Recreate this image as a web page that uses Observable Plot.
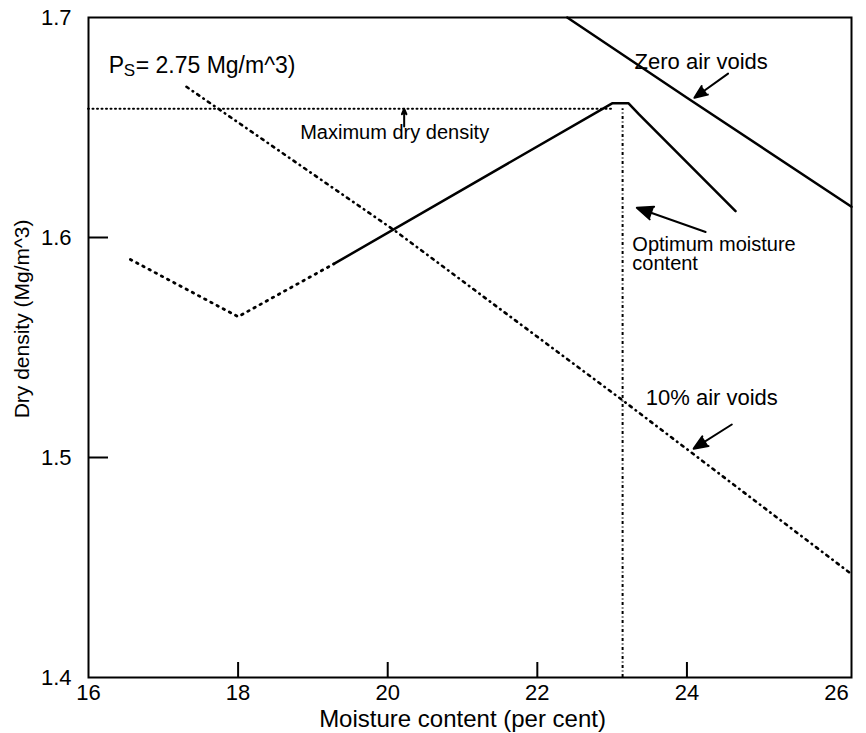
<!DOCTYPE html>
<html>
<head>
<meta charset="utf-8">
<script src="https://cdn.jsdelivr.net/npm/d3@7"></script>
<script src="https://cdn.jsdelivr.net/npm/@observablehq/plot@0.6"></script>
<style>
  html, body { margin: 0; padding: 0; background: #fff; }
  #chart svg { font-family: "Liberation Sans", Arial, Helvetica, sans-serif; }
</style>
</head>
<body>
<div id="chart"></div>
<script>
// ---- axes ----
const xDomain = [16, 26.2];
const yDomain = [1.4, 1.7];
const xTicks = [16, 18, 20, 22, 24, 26];
const yTicks = [1.4, 1.5, 1.6, 1.7];
const innerXTicks = [18, 20, 22, 24];
const innerYTicks = [1.5, 1.6];
const xTitle = "Moisture content (per cent)";
const yTitle = "Dry density (Mg/m^3)";

// ---- series ----
const zeroAirMoisture = [22.40, 24.0, 26.2];
const zeroAirDensity  = [1.700, 1.6635, 1.614];

const dryMoisture = [16.56, 18.0, 19.28];
const dryDensity  = [1.590, 1.564, 1.588];

const compMoisture = [19.28, 23.0, 23.22, 23.36, 24.65];
const compDensity  = [1.588, 1.661, 1.661, 1.656, 1.612];

const air10Moisture = [17.31, 20.1, 23.14, 26.2];
const air10Density  = [1.6685, 1.603, 1.526, 1.447];

const maxDryDensity = 1.6585;
const optimumMoisture = 23.14;

// ---- annotations ----
const noteText = ["Zero air voids", "Maximum dry density", "Optimum moisture", "content", "10% air voids"];
const noteX    = [23.30, 18.83, 23.27, 23.27, 23.45];
const noteY    = [1.680, 1.6475, 1.597, 1.588, 1.527];
const noteSize = [22, 20, 20, 20, 22];

const arrowX1 = [24.55, 20.22, 24.25, 24.60];
const arrowY1 = [1.6745, 1.6505, 1.6025, 1.5150];
const arrowX2 = [24.10, 20.22, 23.33, 24.09];
const arrowY2 = [1.6635, 1.6585, 1.6135, 1.5040];

const psParts = ["P", "S", "= 2.75 Mg/m^3)"];
const psX = 16.27;
const psY = 1.678;

const pts = (xs, ys) => xs.map((x, i) => ({x, y: ys[i]}));
const idx = n => d3.range(n);

const plotW = 866, plotH = 733;
const mL = 88, mR = 15, mT = 17, mB = 56;

const chart = Plot.plot({
  width: plotW,
  height: plotH,
  marginLeft: mL,
  marginRight: mR,
  marginTop: mT,
  marginBottom: mB,
  x: {domain: xDomain},
  y: {domain: yDomain},
  style: {fontFamily: '"Liberation Sans", Arial, sans-serif', color: "black", background: "white"},
  marks: [
    Plot.axisX({ticks: xTicks, tickSize: 0, tickPadding: 7, fontSize: 22, tickFormat: d => String(d), label: null}),
    Plot.axisY({ticks: yTicks, tickSize: 0, tickPadding: 17, fontSize: 22, tickFormat: d3.format(".1f"), label: null}),
    Plot.ruleY(innerYTicks, {stroke: "black", strokeWidth: 2, insetRight: plotW - mL - mR - 20}),
    Plot.ruleX(innerXTicks, {stroke: "black", strokeWidth: 2, insetTop: plotH - mT - mB - 15}),
    Plot.text([xTitle], {frameAnchor: "bottom", x: 21, lineAnchor: "middle", textAnchor: "middle", dy: 42, fontSize: 24}),
    Plot.text([yTitle], {frameAnchor: "left", y: 1.563, textAnchor: "middle", lineAnchor: "middle", dx: -66, rotate: -90, fontSize: 21}),

    // reference lines
    Plot.ruleY([maxDryDensity], {x1: xDomain[0], x2: compMoisture[1], stroke: "black", strokeWidth: 2, strokeDasharray: "1,3.5", strokeLinecap: "round"}),
    Plot.ruleX([optimumMoisture], {y1: yDomain[0], y2: maxDryDensity, stroke: "black", strokeWidth: 2, strokeDasharray: "3,2.5,1,2.5"}),

    // curves
    Plot.line(pts(air10Moisture, air10Density), {x: "x", y: "y", stroke: "black", strokeWidth: 2.6, strokeDasharray: "2.5,5,0.5,5", strokeLinecap: "round"}),
    Plot.line(pts(dryMoisture, dryDensity), {x: "x", y: "y", stroke: "black", strokeWidth: 2.8, strokeDasharray: "1.5,5.5", strokeLinecap: "round"}),
    Plot.line(pts(compMoisture, compDensity), {x: "x", y: "y", stroke: "black", strokeWidth: 2.5, strokeLinejoin: "round"}),
    Plot.line(pts(zeroAirMoisture, zeroAirDensity), {x: "x", y: "y", stroke: "black", strokeWidth: 2.5}),

    // annotations
    Plot.text(idx(noteText.length), {x: i => noteX[i], y: i => noteY[i], text: i => noteText[i], fontSize: i => noteSize[i], textAnchor: "start"}),
    Plot.arrow(idx(arrowX1.length), {x1: i => arrowX1[i], y1: i => arrowY1[i], x2: i => arrowX2[i], y2: i => arrowY2[i], stroke: "black", fill: "black", strokeWidth: 2, headLength: 13, headAngle: 45}),
    Plot.text([psParts[0]], {x: psX, y: psY, textAnchor: "start", fontSize: 23}),
    Plot.text([psParts[1]], {x: psX, y: psY, textAnchor: "start", fontSize: 17, dx: 15, dy: 5}),
    Plot.text([psParts[2]], {x: psX, y: psY, textAnchor: "start", fontSize: 23, dx: 27}),

    Plot.frame({stroke: "black", strokeWidth: 2})
  ]
});

document.getElementById("chart").appendChild(chart);
</script>
</body>
</html>
